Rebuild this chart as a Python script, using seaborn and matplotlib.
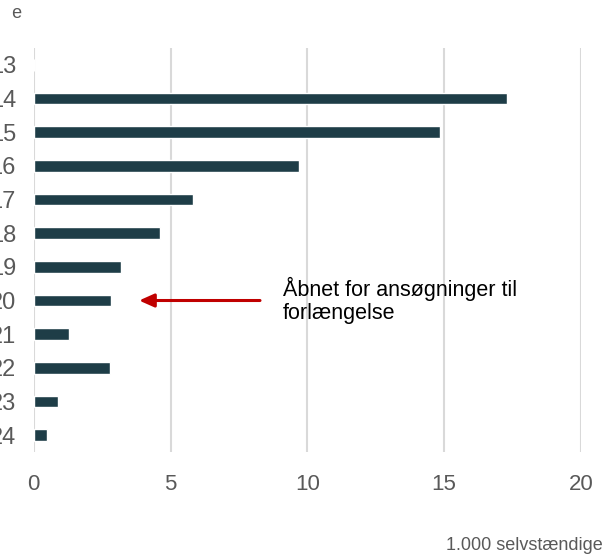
import matplotlib
matplotlib.use("Agg")
import matplotlib.pyplot as plt
from matplotlib.transforms import Bbox
import seaborn as sns
import pandas as pd

sns.set_style("white")
plt.rcParams["font.family"] = ["Liberation Sans", "DejaVu Sans"]

weeks = ["13", "14", "15", "16", "17", "18", "19", "20", "21", "22", "23", "24"]
applications = [0.0, 17.3, 14.86, 9.69, 5.83, 4.6, 3.18, 2.81, 1.30, 2.80, 0.89, 0.47]
note_week = "20"
note_text = "Åbnet for ansøgninger til\nforlængelse"

df = pd.DataFrame({"uge": weeks, "antal": applications})

fig = plt.figure(figsize=(6.05, 5.57), dpi=100)
ax = fig.add_axes([0.0557, 0.1885, 0.9046, 0.7253])

sns.barplot(data=df, x="antal", y="uge", order=weeks, orient="h",
            color="#1e3d47", saturation=1, width=0.35, ax=ax, zorder=3)

ax.set_xlim(0, 20)
ax.set_ylim(len(weeks) - 0.5, -0.5)
ax.set_xticks([0, 5, 10, 15, 20])
ax.grid(axis="x", color="#d9d9d9", linewidth=1.5, zorder=0)
ax.grid(axis="y", visible=False)
for s in ax.spines.values():
    s.set_visible(False)
ax.tick_params(axis="x", length=0, pad=16, labelsize=16, labelcolor="#595959")
ax.tick_params(axis="y", length=0, pad=12.7, labelsize=17, labelcolor="#595959")
ax.set_xlabel("")
ax.set_ylabel("")

y_note = weeks.index(note_week)
ax.annotate("", xy=(3.85, y_note), xytext=(8.27, y_note),
            arrowprops=dict(arrowstyle="-|>,head_length=0.9,head_width=0.4",
                            color="#c00000", lw=2.2, shrinkA=0, shrinkB=0))
ax.text(9.1, y_note, note_text, ha="left", va="center", fontsize=15.5,
        color="black", linespacing=1.15)

# y-axis title, cropped at the left like the week labels
t = fig.text(22.5 / 605, 1 - 14 / 557, "Uge", ha="right", va="center",
             fontsize=13, color="#595959")
t.set_clip_box(Bbox.from_extents(12, 0, 605, 557))
t.set_clip_on(True)

fig.text(603 / 605, 1 - 545 / 557, "1.000 selvstændige", ha="right", va="center",
         fontsize=13, color="#595959")

fig.savefig("out.png", dpi=100)
